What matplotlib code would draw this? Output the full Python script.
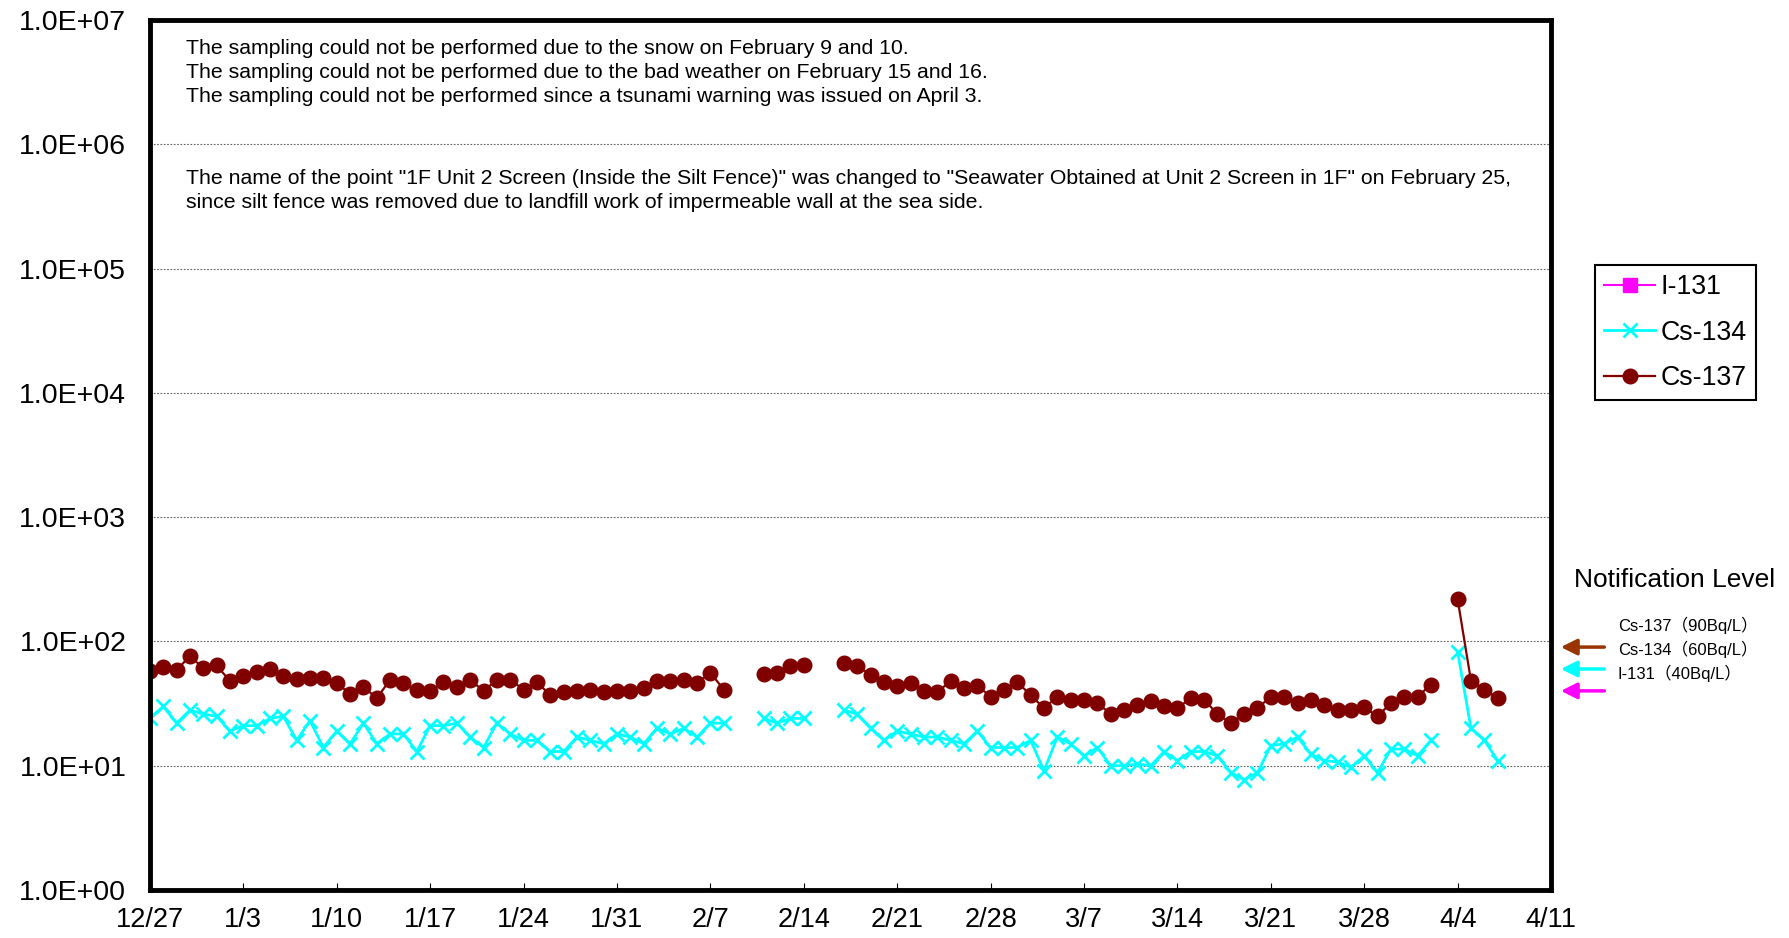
import matplotlib; matplotlib.use('agg')
import matplotlib.pyplot as plt
import matplotlib.transforms as mtransforms
from matplotlib.ticker import FixedLocator, FuncFormatter, NullLocator
import numpy as np

plt.rcParams['font.family'] = ['Liberation Sans', 'DejaVu Sans']

nan = np.nan

# daily sampling from 12/27 to 4/7, nan = no sampling
dates = np.arange('2013-12-27', '2014-04-08', dtype='datetime64[D]')

cs137 = [58, 62, 59, 76, 61, 64, 48, 53, 57, 60,
         53, 50, 51, 51, 46, 38, 43, 35, 49, 46,
         41, 40, 47, 43, 49, 40, 49, 49, 41, 47,
         37, 39, 40, 41, 39, 40, 40, 42, 48, 48,
         49, 46, 56, 41, nan, nan, 55, 56, 63, 64,
         nan, nan, 67, 63, 54, 47, 44, 46, 40, 39,
         48, 42, 44, 36, 41, 47, 37, 29, 36, 34,
         34, 32, 26, 28, 31, 33, 30, 29, 35, 34,
         26, 22, 26, 29, 36, 36, 32, 34, 31, 28,
         28, 29.5, 25, 32, 36, 36, 45, nan, 218, 48,
         41, 35]

cs134 = [24, 30, 22, 28, 26, 25, 19, 21, 21, 24,
         25, 16, 23, 14, 19, 15, 22, 15, 18, 18,
         13, 21, 21, 22, 17, 14, 22, 18, 16, 16,
         13, 13, 17, 16, 15, 18, 17, 15, 20, 18,
         20, 17, 22, 22, nan, nan, 24, 22, 24, 24,
         nan, nan, 28, 26, 20, 16, 19, 18, 17, 17,
         16, 15, 19, 14, 14, 14, 16, 9.1, 17, 15,
         12, 14, 10, 10, 10.3, 10, 13, 11, 13, 13,
         12, 8.8, 7.7, 8.8, 14.5, 15, 17, 12.4, 11, 10.7,
         9.7, 12, 8.8, 13.6, 13.6, 12, 16, nan, 82, 20,
         16, 11]

# I-131 was never detected
i131_dates = []
i131 = []

tick_dates = np.arange('2013-12-27', '2014-04-12', 7, dtype='datetime64[D]')
tick_labels = ['12/27', '1/3', '1/10', '1/17', '1/24', '1/31', '2/7', '2/14',
               '2/21', '2/28', '3/7', '3/14', '3/21', '3/28', '4/4', '4/11']

limits = [('Cs-137\uff0890Bq/L\uff09', 90, '#993300'),
          ('Cs-134\uff0860Bq/L\uff09', 60, '#00FFFF'),
          ('I-131\uff0840Bq/L\uff09', 40, '#FF00FF')]

notes = ['The sampling could not be performed due to the snow on February 9 and 10.',
         'The sampling could not be performed due to the bad weather on February 15 and 16.',
         'The sampling could not be performed since a tsunami warning was issued on April 3.']
notes2 = ['The name of the point "1F Unit 2 Screen (Inside the Silt Fence)" was changed to '
          '"Seawater Obtained at Unit 2 Screen in 1F" on February 25,',
          'since silt fence was removed due to landfill work of impermeable wall at the sea side.']

fig = plt.figure(figsize=(17.89, 9.38), dpi=100)
ax = fig.add_axes([0.0838, 0.0512, 0.7832, 0.9275])

ax.plot(i131_dates, i131, '-s', color='#FF00FF', lw=1.5, ms=10, label='I-131')
ax.plot(dates, cs134, '-x', color='#00FFFF', lw=2, ms=10, mew=2, label='Cs-134')
ax.plot(dates, cs137, '-o', color='#800000', lw=1.6, ms=10.5, label='Cs-137')

ax.set_yscale('log')
ax.set_ylim(1, 1e7)
ax.yaxis.set_major_locator(FixedLocator([10.0**k for k in range(8)]))
ax.yaxis.set_minor_locator(NullLocator())
ax.yaxis.set_major_formatter(FuncFormatter(lambda v, p: '%.1E' % v))
ax.yaxis.grid(True, linestyle=(0, (1.5, 1.5)), color='#606060', lw=0.8)

ax.set_xlim(tick_dates[0], tick_dates[-1])
ax.set_xticks(tick_dates)
ax.set_xticklabels(tick_labels)

ax.tick_params(axis='y', length=0, pad=17, labelsize=20.5)
ax.tick_params(axis='x', direction='in', length=5, width=0.8, pad=12, labelsize=19.5)
for s in ax.spines.values():
    s.set_linewidth(3.5)

leg = ax.legend(loc='upper left', bbox_to_anchor=(0.8916, 0.7175), bbox_transform=fig.transFigure,
                borderaxespad=0, fontsize=19.3, handlelength=1.9, handletextpad=0.2,
                labelspacing=0.72, borderpad=0.35, fancybox=False, framealpha=1)
leg.get_frame().set_edgecolor('black')
leg.get_frame().set_linewidth(1.5)

# notification level arrows
trans = mtransforms.blended_transform_factory(ax.transAxes, ax.transData)
for name, lvl, c in limits:
    ax.annotate('', xy=(1.005, lvl), xytext=(1.040, lvl), xycoords=trans, textcoords=trans,
                arrowprops=dict(arrowstyle='-|>', color=c, lw=2.5, mutation_scale=24),
                annotation_clip=False)

fig.text(0.9363, 0.3817, 'Notification Level', fontsize=19, ha='center', va='center')
for i, (name, lvl, c) in enumerate(limits):
    fig.text(0.9044, 0.3337 - i * 0.0256, name, fontsize=12, va='center',
             family=['Liberation Sans', 'Noto Sans CJK JP'])

for i, t in enumerate(notes):
    fig.text(0.104, 0.9488 - i * 0.0256, t, fontsize=15.3, va='center')
for i, t in enumerate(notes2):
    fig.text(0.104, 0.8102 - i * 0.0266, t, fontsize=15.3, va='center')

plt.savefig('out.png')
